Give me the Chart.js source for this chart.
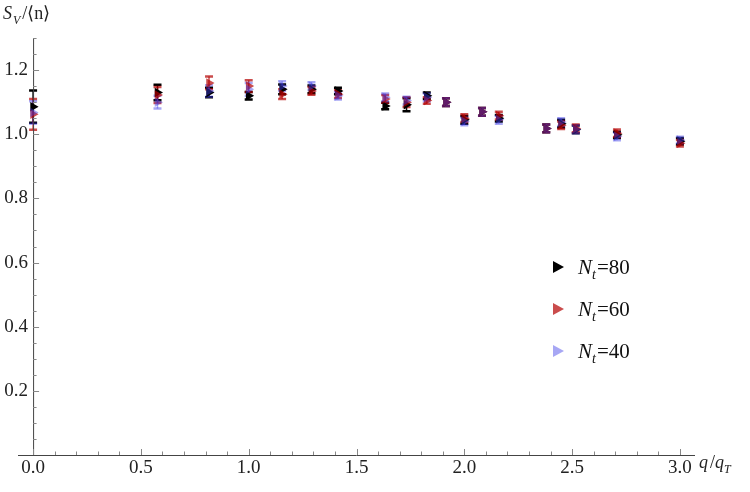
<!DOCTYPE html>
<html>
<head>
<meta charset="utf-8">
<script src="https://cdn.jsdelivr.net/npm/chart.js@4"></script>
<style>
  html, body { margin: 0; padding: 0; background: #fff; }
  #plot { display: block; }
</style>
</head>
<body>
<canvas id="plot" width="750" height="492"></canvas>
<script>
// q/q_T momenta
const qValues = [0, 0.577, 0.816, 1.0, 1.155, 1.291, 1.414, 1.633, 1.732, 1.826, 1.915, 2.0, 2.082, 2.160, 2.380, 2.449, 2.517, 2.708, 3.0];

// S_V/<n> per N_t, and their errors
const nt80 = [1.086, 1.13, 1.13, 1.12, 1.14, 1.14, 1.135, 1.088, 1.092, 1.12, 1.10, 1.045, 1.07, 1.05, 1.018, 1.033, 1.015, 0.998, 0.978];
const nt80Err = [0.05, 0.024, 0.015, 0.012, 0.015, 0.012, 0.01, 0.01, 0.02, 0.01, 0.012, 0.012, 0.012, 0.01, 0.012, 0.012, 0.012, 0.01, 0.01];
const nt60 = [1.062, 1.122, 1.16, 1.15, 1.125, 1.135, 1.125, 1.11, 1.10, 1.105, 1.10, 1.05, 1.07, 1.058, 1.018, 1.028, 1.018, 1.003, 0.972];
const nt60Err = [0.048, 0.025, 0.02, 0.018, 0.015, 0.012, 0.012, 0.012, 0.015, 0.01, 0.012, 0.012, 0.012, 0.012, 0.012, 0.012, 0.012, 0.012, 0.01];
const nt40 = [1.068, 1.10, 1.135, 1.14, 1.15, 1.15, 1.12, 1.115, 1.105, 1.115, 1.10, 1.04, 1.07, 1.045, 1.018, 1.038, 1.015, 0.993, 0.982];
const nt40Err = [0.035, 0.02, 0.018, 0.02, 0.015, 0.012, 0.012, 0.012, 0.012, 0.012, 0.012, 0.012, 0.012, 0.012, 0.012, 0.012, 0.012, 0.012, 0.01];

const seriesNames = ["80", "60", "40"];
const xTickLabels = ["0.0", "0.5", "1.0", "1.5", "2.0", "2.5", "3.0"];
const yTickLabels = ["0.2", "0.4", "0.6", "0.8", "1.0", "1.2"];

const FONT = '"Liberation Serif", serif';
const colors = ["rgba(0,0,0,1)", "rgba(180,0,0,0.7)", "rgba(60,60,230,0.45)"];

function pts(ys) {
  return qValues.map((q, i) => ({ x: q, y: ys[i] }));
}

// draws text pieces with italic / subscript parts
function drawParts(ctx, x, y, parts, size) {
  ctx.textAlign = "left";
  ctx.textBaseline = "alphabetic";
  parts.forEach(p => {
    const s = p.sub ? Math.round(size * 0.68) : size;
    ctx.font = (p.italic ? "italic " : "") + s + "px " + FONT;
    ctx.fillText(p.t, x, y + (p.sub ? size * 0.25 : 0));
    x += ctx.measureText(p.t).width + (p.gap || 0);
  });
}

const errorBars = {
  id: "errorBars",
  beforeDatasetsDraw(chart) {
    const ctx = chart.ctx;
    const xs = chart.scales.x, ys = chart.scales.y;
    // black first, blue last (same as markers)
    [0, 1, 2].forEach(di => {
      const ds = chart.data.datasets[di];
      ctx.save();
      ctx.strokeStyle = ds.backgroundColor;
      ds.data.forEach((p, i) => {
        const e = ds.errors[i];
        const px = xs.getPixelForValue(p.x);
        const top = ys.getPixelForValue(p.y + e);
        const bot = ys.getPixelForValue(p.y - e);
        ctx.lineWidth = 1.5;
        ctx.beginPath();
        ctx.moveTo(px, top);
        ctx.lineTo(px, bot);
        ctx.stroke();
        ctx.lineWidth = 2.5;
        ctx.beginPath();
        ctx.moveTo(px - 4, top); ctx.lineTo(px + 4, top);
        ctx.moveTo(px - 4, bot); ctx.lineTo(px + 4, bot);
        ctx.stroke();
      });
      ctx.restore();
    });
  }
};

const axesPlugin = {
  id: "axesPlugin",
  beforeDatasetsDraw(chart) {
    const ctx = chart.ctx;
    const xs = chart.scales.x, ys = chart.scales.y;
    const area = chart.chartArea;
    const x0 = xs.getPixelForValue(0);
    const y0 = ys.getPixelForValue(0);
    ctx.save();
    ctx.strokeStyle = "#444";
    ctx.lineWidth = 1;
    ctx.beginPath();
    ctx.moveTo(area.left, y0 + 0.5);
    ctx.lineTo(area.right, y0 + 0.5);
    ctx.moveTo(x0 + 0.5, y0);
    ctx.lineTo(x0 + 0.5, area.top);
    ctx.stroke();

    // x ticks: minor every 0.1, major every 0.5
    ctx.strokeStyle = "#888";
    ctx.beginPath();
    for (let k = 0; k <= 30; k++) {
      const px = Math.round(xs.getPixelForValue(k / 10)) + 0.5;
      const len = k % 5 === 0 ? 6 : 3.5;
      ctx.moveTo(px, y0);
      ctx.lineTo(px, y0 - len);
    }
    // y ticks: minor every 0.05, major every 0.2
    for (let k = 1; k <= 26; k++) {
      const py = Math.round(ys.getPixelForValue(k / 20)) + 0.5;
      const len = k % 4 === 0 ? 6 : 3.5;
      ctx.moveTo(x0, py);
      ctx.lineTo(x0 + len, py);
    }
    ctx.stroke();

    ctx.fillStyle = "#222";
    ctx.font = "19px " + FONT;
    ctx.textAlign = "center";
    ctx.textBaseline = "middle";
    xTickLabels.forEach(l => {
      ctx.fillText(l, xs.getPixelForValue(parseFloat(l)), y0 + 13);
    });
    ctx.textAlign = "right";
    yTickLabels.forEach(l => {
      ctx.fillText(l, x0 - 5, ys.getPixelForValue(parseFloat(l)));
    });

    // axis titles
    drawParts(ctx, 3, 19, [
      { t: "S", italic: true, gap: 1 },
      { t: "V", italic: true, sub: true, gap: 2 },
      { t: "/\u27E8n\u27E9" }
    ], 18);
    drawParts(ctx, 699, 468, [
      { t: "q", italic: true, gap: 2 },
      { t: "/" },
      { t: "q", italic: true },
      { t: "T", italic: true, sub: true }
    ], 18);
    ctx.restore();
  },
  afterDraw(chart) {
    // legend
    const ctx = chart.ctx;
    ctx.save();
    seriesNames.forEach((n, i) => {
      const cy = 267 + i * 42;
      ctx.fillStyle = colors[i];
      ctx.beginPath();
      ctx.moveTo(553, cy - 6);
      ctx.lineTo(564, cy);
      ctx.lineTo(553, cy + 6);
      ctx.closePath();
      ctx.fill();
      ctx.fillStyle = "#111";
      drawParts(ctx, 578, cy + 7, [
        { t: "N", italic: true },
        { t: "t", italic: true, sub: true, gap: 1 },
        { t: "=" + n }
      ], 21);
    });
    ctx.restore();
  }
};

function makeSet(label, ys, errs, i, order) {
  return {
    label: label,
    data: pts(ys),
    errors: errs,
    backgroundColor: colors[i],
    borderColor: colors[i],
    borderWidth: 0,
    pointStyle: "triangle",
    rotation: 90,
    pointRadius: 5.5,
    showLine: false,
    clip: false,
    order: order
  };
}

new Chart(document.getElementById("plot").getContext("2d"), {
  type: "scatter",
  data: {
    datasets: [
      makeSet("Nt=80", nt80, nt80Err, 0, 3),
      makeSet("Nt=60", nt60, nt60Err, 1, 2),
      makeSet("Nt=40", nt40, nt40Err, 2, 1)
    ]
  },
  options: {
    responsive: false,
    devicePixelRatio: 1,
    animation: false,
    layout: { padding: { left: 18, right: 55, top: 38, bottom: 37 } },
    scales: {
      x: { type: "linear", min: -0.07, max: 3.07, display: false },
      y: { type: "linear", min: 0, max: 1.3, display: false }
    },
    plugins: {
      legend: { display: false },
      tooltip: { enabled: false }
    }
  },
  plugins: [errorBars, axesPlugin]
});
</script>
</body>
</html>
